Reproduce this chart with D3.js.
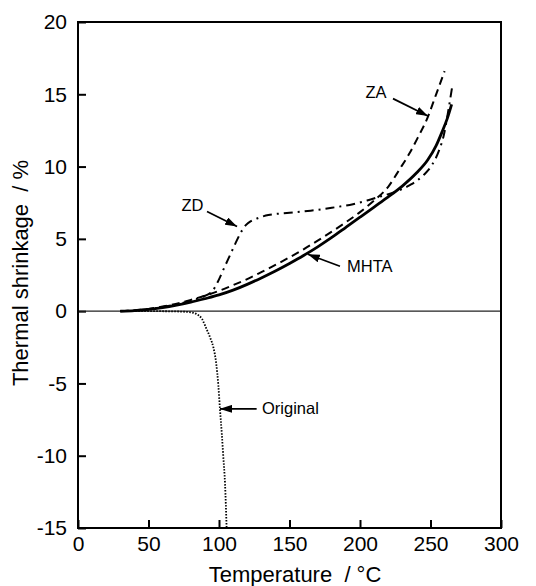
<!DOCTYPE html>
<html>
<head>
<meta charset="utf-8">
<script src="https://cdn.jsdelivr.net/npm/d3@7"></script>
<style>
  html, body { margin: 0; padding: 0; background: #fff; }
  svg { display: block; }
  text { font-family: "Liberation Sans", Arial, Helvetica, sans-serif; fill: #000; }
</style>
</head>
<body>
<svg id="chart" width="536" height="586"></svg>
<script>
// ---- Data ----
const xTicks = [0, 50, 100, 150, 200, 250, 300];
const yTicks = [-15, -10, -5, 0, 5, 10, 15, 20];

const mhtaT = [30, 40, 50, 60, 70, 80, 90, 100, 110, 120, 130, 140, 150, 160, 170, 180, 190, 200, 210, 220, 230, 240, 248, 254, 258, 262, 265];
const mhtaV = [0, 0.04, 0.12, 0.25, 0.42, 0.62, 0.86, 1.12, 1.45, 1.85, 2.3, 2.78, 3.3, 3.85, 4.45, 5.1, 5.8, 6.5, 7.2, 7.9, 8.65, 9.55, 10.45, 11.45, 12.35, 13.35, 14.3];

const zaT = [30, 40, 50, 60, 70, 80, 90, 100, 110, 120, 130, 140, 150, 160, 170, 180, 190, 200, 210, 220, 228, 235, 241, 248, 254, 260];
const zaV = [0, 0.05, 0.15, 0.32, 0.52, 0.78, 1.07, 1.4, 1.8, 2.22, 2.7, 3.2, 3.72, 4.28, 4.88, 5.5, 6.15, 6.85, 7.65, 8.6, 9.8, 10.9, 12.0, 13.4, 15.0, 16.6];

const zdT = [30, 40, 50, 60, 70, 80, 88, 95, 99, 103, 107, 111, 115, 119, 123, 128, 135, 150, 165, 180, 195, 205, 215, 225, 235, 245, 251, 256, 259.5, 262.5, 265.5];
const zdV = [0, 0.04, 0.13, 0.28, 0.48, 0.72, 0.98, 1.35, 2.0, 2.85, 3.7, 4.55, 5.35, 5.95, 6.25, 6.45, 6.65, 6.8, 6.95, 7.15, 7.4, 7.65, 7.95, 8.25, 8.7, 9.4, 10.1, 11.1, 12.2, 13.8, 15.6];

const origT = [30, 50, 70, 80, 84, 88, 91, 94, 96, 98, 99.5, 100.7, 102, 103, 104.3, 105.4];
const origV = [0, 0, -0.02, -0.08, -0.2, -0.55, -1.2, -1.9, -2.5, -3.6, -5.1, -6.8, -8.5, -10, -12, -15];

// annotation labels, arrow start and arrow tip in data units
const labelNames = ["ZA", "ZD", "MHTA", "Original"];
const labelAt    = [[211.3, 14.76], [81.2, 6.9], [190.8, 2.69], [130.5, -7.1]];
const labelAnchor = ["middle", "middle", "start", "start"];
const arrowFrom  = [[223.4, 14.7], [91.5, 6.9], [185.8, 3.1], [126.7, -6.76]];
const arrowTo    = [[248.2, 13.5], [112.8, 5.86], [163, 3.93], [100.7, -6.76]];

// ---- Layout ----
const svg = d3.select("#chart");
const L = 78, R = 501, T = 22, B = 528;
const x = d3.scaleLinear().domain([0, 300]).range([L, R]);
const y = d3.scaleLinear().domain([-15, 20]).range([B, T]);
const fmt = d => String(d);

// axes with inward ticks
const gx = svg.append("g").attr("transform", `translate(0,${B})`)
  .call(d3.axisBottom(x).tickValues(xTicks).tickSize(-8).tickPadding(8).tickFormat(fmt));
const gy = svg.append("g").attr("transform", `translate(${L},0)`)
  .call(d3.axisLeft(y).tickValues(yTicks).tickSize(-8).tickPadding(11).tickFormat(fmt));
[gx, gy].forEach(g => {
  g.select(".domain").remove();
  g.selectAll(".tick line").attr("stroke", "#000").attr("stroke-width", 2);
  g.selectAll(".tick text").attr("font-size", 21).attr("font-family", "Liberation Sans, Arial, sans-serif").attr("fill", "#000");
});

// zero line
svg.append("line")
  .attr("x1", x(0)).attr("x2", x(300)).attr("y1", y(0)).attr("y2", y(0))
  .attr("stroke", "#222").attr("stroke-width", 1.2);

// frame
svg.append("rect").attr("x", L).attr("y", T).attr("width", R - L).attr("height", B - T)
  .attr("fill", "none").attr("stroke", "#000").attr("stroke-width", 2);

// series
const line = d3.line().x(d => x(d[0])).y(d => y(d[1])).curve(d3.curveMonotoneX);
const zip = (a, b) => a.map((v, i) => [v, b[i]]);

svg.append("path").datum(zip(origT, origV)).attr("d", line)
  .attr("fill", "none").attr("stroke", "#000").attr("stroke-width", 1.8).attr("stroke-dasharray", "1.5,1.5");
svg.append("path").datum(zip(zdT, zdV)).attr("d", line)
  .attr("fill", "none").attr("stroke", "#000").attr("stroke-width", 2).attr("stroke-dasharray", "9,5,2,5");
svg.append("path").datum(zip(zaT, zaV)).attr("d", line)
  .attr("fill", "none").attr("stroke", "#000").attr("stroke-width", 2).attr("stroke-dasharray", "8,5");
svg.append("path").datum(zip(mhtaT, mhtaV)).attr("d", line)
  .attr("fill", "none").attr("stroke", "#000").attr("stroke-width", 2.8);

// arrow marker
svg.append("defs").append("marker")
  .attr("id", "arr").attr("viewBox", "0 0 12 8").attr("refX", 12).attr("refY", 4)
  .attr("markerWidth", 12).attr("markerHeight", 8).attr("markerUnits", "userSpaceOnUse")
  .attr("orient", "auto")
  .append("path").attr("d", "M0,0 L12,4 L0,8 Z").attr("fill", "#000");

labelNames.forEach((name, i) => {
  svg.append("line")
    .attr("x1", x(arrowFrom[i][0])).attr("y1", y(arrowFrom[i][1]))
    .attr("x2", x(arrowTo[i][0])).attr("y2", y(arrowTo[i][1]))
    .attr("stroke", "#000").attr("stroke-width", 1.7).attr("marker-end", "url(#arr)");
  svg.append("text")
    .attr("x", x(labelAt[i][0])).attr("y", y(labelAt[i][1]))
    .attr("text-anchor", labelAnchor[i]).attr("font-size", 16.5)
    .text(name);
});

// axis titles
svg.append("text").attr("x", 295).attr("y", 582).attr("text-anchor", "middle")
  .attr("font-size", 22).attr("fill", "#000").style("white-space", "pre")
  .text("Temperature  / °C");
svg.append("text").attr("transform", "translate(28,273) rotate(-90)").attr("text-anchor", "middle")
  .attr("font-size", 22).attr("fill", "#000").style("white-space", "pre")
  .text("Thermal shrinkage  / %");
</script>
</body>
</html>
